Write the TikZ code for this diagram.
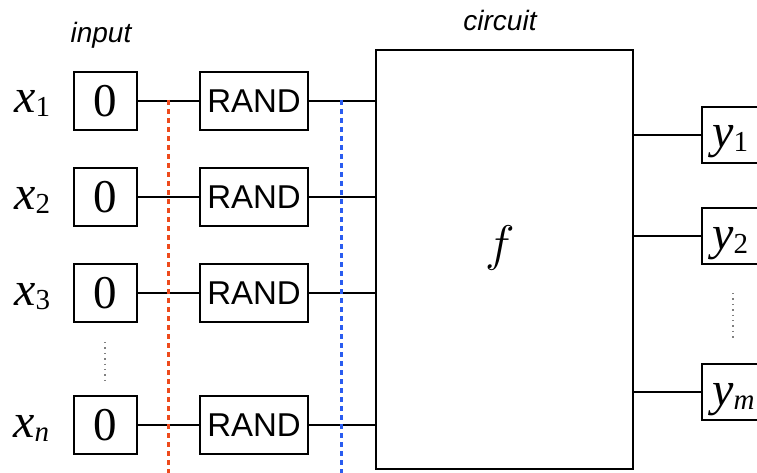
\documentclass[tikz,border=0pt]{standalone}
\usepackage{fix-cm}
\usepackage{fontspec}
\setmainfont{Liberation Serif}
\newfontfamily\sansf{Liberation Sans}
\definecolor{dotred}{HTML}{EE4A1C}
\definecolor{dotblue}{HTML}{2A5CF0}
\newcommand\biglab[2]{{\fontsize{48}{48}\selectfont\itshape #1}\raisebox{-4pt}{\fontsize{29}{29}\selectfont #2}}
\begin{document}
\begin{tikzpicture}[x=1pt,y=-1pt,
  wire/.style={line width=2.1pt},
  zbox/.style={draw,line width=2.1pt,minimum width=63pt,minimum height=58pt,inner sep=0pt,font=\fontsize{47}{47}\selectfont},
  rbox/.style={draw,line width=2.1pt,minimum width=108pt,minimum height=58pt,inner sep=0pt,font=\sansf\fontsize{33}{33}\selectfont},
  obox/.style={draw,line width=2.1pt,minimum width=80pt,minimum height=56pt,inner sep=0pt,anchor=west},
  lab/.style={anchor=base west,inner sep=0pt},
  head/.style={anchor=base,inner sep=0pt,font=\sansf\itshape\fontsize{28}{28}\selectfont},
  dotsv/.style={gray,line width=1.4pt,dash pattern=on 1.4pt off 4pt},
  sepline/.style={line width=3pt,dash pattern=on 5pt off 4pt}]
\clip (0,0) rectangle (757,473);
\useasboundingbox (0,0) rectangle (757,473);

% input boxes
\node[zbox] (z1) at (105.5,101) {0};
\node[zbox] (z2) at (105.5,197) {0};
\node[zbox] (z3) at (105.5,293) {0};
\node[zbox] (zn) at (105.5,425) {0};
% RAND boxes
\node[rbox] (r1) at (254,101) {RAND};
\node[rbox] (r2) at (254,197) {RAND};
\node[rbox] (r3) at (254,293) {RAND};
\node[rbox] (rn) at (254,425) {RAND};
% circuit
\node[draw,line width=2.1pt,minimum width=257pt,minimum height=419pt,inner sep=0pt] (c) at (504.5,259.5) {};
\node[inner sep=0pt] (f) at (500,248) {\fontsize{50}{50}\selectfont$f$};
% outputs
\node[obox] (y1) at (701,135) {};
\node[obox] (y2) at (701,236) {};
\node[obox] (ym) at (701,392) {};

% labels
\node[lab] (lx1) at (14,113) {\biglab{x}{1}};
\node[lab] (lx2) at (14,209) {\biglab{x}{2}};
\node[lab] (lx3) at (14,305) {\biglab{x}{3}};
\node[lab] (lxn) at (13,437) {\biglab{x}{\itshape n}};
\node[lab] (ly1) at (712,148) {\biglab{y}{1}};
\node[lab] (ly2) at (712,249) {\biglab{y}{2}};
\node[lab] (lym) at (712,405) {\biglab{y}{\itshape m}};
\node[head] (hin) at (101,43) {input};
\node[head] (hc) at (500,31) {circuit};

% wires
\foreach \i in {1,2,3,n} {
  \draw[wire] (z\i.east) -- (r\i.west);
  \draw[wire] (r\i.east) -- (c.west |- r\i.east);
}
\foreach \i in {1,2,m} {
  \draw[wire] (c.east |- y\i.west) -- (y\i.west);
}

% separators
\coordinate (rt) at (168,100);
\coordinate (rb) at (168,475);
\coordinate (bt) at (341,100);
\coordinate (bb) at (341,475);
\draw[sepline,dotred] (rt) -- (rb);
\draw[sepline,dotblue] (bt) -- (bb);

% vertical dots
\coordinate (dl1) at (105,342);
\coordinate (dl2) at (105,380);
\coordinate (dr1) at (733,293);
\coordinate (dr2) at (733,341);
\draw[dotsv] (dl1) -- (dl2);
\draw[dotsv] (dr1) -- (dr2);
\end{tikzpicture}
\end{document}
